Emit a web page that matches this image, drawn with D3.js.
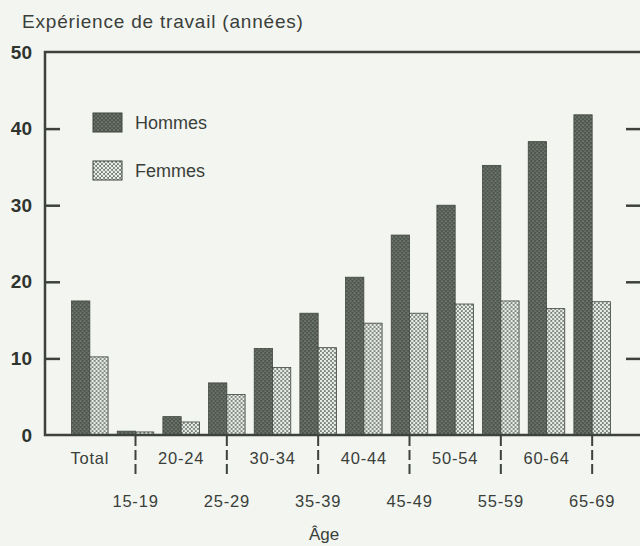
<!DOCTYPE html>
<html>
<head>
<meta charset="utf-8">
<script src="https://cdn.jsdelivr.net/npm/d3@7"></script>
<style>
  html, body { margin: 0; padding: 0; background: #f3f5f1; }
  svg { display: block; font-family: "Liberation Sans", Arial, sans-serif; }
</style>
</head>
<body>
<div id="chart"></div>
<script>
const CATEGORIES = ['Total', '15-19', '20-24', '25-29', '30-34', '35-39', '40-44', '45-49', '50-54', '55-59', '60-64', '65-69'];
const SERIES = ['Hommes', 'Femmes'];
const HOMMES = [17.5, 0.5, 2.4, 6.8, 11.3, 15.9, 20.6, 26.1, 30.0, 35.2, 38.3, 41.8];
const FEMMES = [10.2, 0.4, 1.7, 5.3, 8.8, 11.4, 14.6, 15.9, 17.1, 17.5, 16.5, 17.4];
const Y_TICKS = [0, 10, 20, 30, 40, 50];

(function () {
  const width = 640;
  const height = 546;
  const left = 45;
  const right = 641;
  const top = 52;
  const bottom = 435;
  const ink = '#3d423d';

  const rows = CATEGORIES.map((c, i) => ({ cat: c, Hommes: HOMMES[i], Femmes: FEMMES[i] }));

  const svg = d3.select('#chart')
    .append('svg')
    .attr('width', width)
    .attr('height', height);

  const defs = svg.append('defs');

  // stipple fills, dark for men, light for women
  const men = defs.append('pattern')
    .attr('id', 'pat-hommes')
    .attr('patternUnits', 'userSpaceOnUse')
    .attr('width', 4)
    .attr('height', 4);
  men.append('rect').attr('width', 4).attr('height', 4).attr('fill', '#4f574f');
  men.append('circle').attr('cx', 1).attr('cy', 1).attr('r', 0.6).attr('fill', '#c9d0c9');
  men.append('circle').attr('cx', 3).attr('cy', 3).attr('r', 0.6).attr('fill', '#aeb5ae');

  const women = defs.append('pattern')
    .attr('id', 'pat-femmes')
    .attr('patternUnits', 'userSpaceOnUse')
    .attr('width', 4)
    .attr('height', 4);
  women.append('rect').attr('width', 4).attr('height', 4).attr('fill', '#737973');
  women.append('circle').attr('cx', 1).attr('cy', 1).attr('r', 1.35).attr('fill', '#eaeeea');
  women.append('circle').attr('cx', 3).attr('cy', 3).attr('r', 1.35).attr('fill', '#eaeeea');

  const fills = { Hommes: 'url(#pat-hommes)', Femmes: 'url(#pat-femmes)' };

  const x0 = d3.scaleBand()
    .domain(CATEGORIES)
    .range([67, 615])
    .paddingInner(0.2)
    .paddingOuter(0.1);

  const x1 = d3.scaleBand()
    .domain(SERIES)
    .range([0, x0.bandwidth()]);

  const y = d3.scaleLinear()
    .domain([0, 50])
    .range([bottom, top]);

  // bars
  const groups = svg.append('g')
    .selectAll('g')
    .data(rows)
    .join('g')
    .attr('transform', d => `translate(${x0(d.cat)},0)`);

  groups.selectAll('rect')
    .data(d => SERIES.map(s => ({ key: s, value: d[s] })))
    .join('rect')
    .attr('x', d => x1(d.key))
    .attr('y', d => y(d.value))
    .attr('width', x1.bandwidth())
    .attr('height', d => y(0) - y(d.value))
    .attr('fill', d => fills[d.key])
    .attr('stroke', '#3f453f')
    .attr('stroke-width', 0.8);

  // left axis, ticks pointing inward
  const yAxis = svg.append('g')
    .attr('transform', `translate(${left},0)`)
    .call(d3.axisLeft(y).tickValues(Y_TICKS).tickSizeInner(-15).tickSizeOuter(0).tickPadding(13));
  yAxis.select('.domain').remove();
  yAxis.selectAll('.tick line').attr('stroke', ink).attr('stroke-width', 2.5);
  yAxis.selectAll('.tick text')
    .attr('fill', '#2f342f')
    .attr('font-size', 19)
    .attr('font-weight', 'bold')
    .attr('font-family', '"Liberation Sans", Arial, sans-serif');
  yAxis.selectAll('.tick').filter(d => d === 0 || d === 50).select('line').remove();

  // right axis ticks only
  const yAxisR = svg.append('g')
    .attr('transform', `translate(${right},0)`)
    .call(d3.axisRight(y).tickValues(Y_TICKS.filter(v => v > 0 && v < 50)).tickSizeInner(-15).tickSizeOuter(0).tickFormat(''));
  yAxisR.select('.domain').remove();
  yAxisR.selectAll('.tick line').attr('stroke', ink).attr('stroke-width', 2.5);

  // frame
  svg.append('path')
    .attr('d', `M${right},${top}H${left}V${bottom}H${right}`)
    .attr('fill', 'none')
    .attr('stroke', ink)
    .attr('stroke-width', 2.5);

  // category labels on two rows, dashed ticks for the lower row
  const xAxis = svg.append('g')
    .attr('transform', `translate(0,${bottom})`)
    .call(d3.axisBottom(x0).tickSize(0).tickPadding(0));
  xAxis.select('.domain').remove();
  xAxis.selectAll('.tick text')
    .attr('fill', '#3a3f3a')
    .attr('font-size', 16.5)
    .attr('letter-spacing', 0.8)
    .attr('font-family', '"Liberation Sans", Arial, sans-serif')
    .attr('dy', null)
    .attr('y', (d, i) => i % 2 === 0 ? 29 : 72);
  xAxis.selectAll('.tick')
    .filter((d, i) => i % 2 === 1)
    .append('line')
    .attr('y1', 1)
    .attr('y2', 42)
    .attr('stroke', ink)
    .attr('stroke-width', 2)
    .attr('stroke-dasharray', '10,4');

  // titles
  svg.append('text')
    .attr('x', 22)
    .attr('y', 28)
    .attr('fill', '#3a3f3a')
    .attr('font-size', 19)
    .attr('letter-spacing', 0.8)
    .text('Expérience de travail (années)');

  svg.append('text')
    .attr('x', 324)
    .attr('y', 540)
    .attr('text-anchor', 'middle')
    .attr('fill', '#3a3f3a')
    .attr('font-size', 17)
    .text('Âge');

  // legend
  const legend = svg.append('g')
    .selectAll('g')
    .data(SERIES)
    .join('g')
    .attr('transform', (d, i) => `translate(93,${113 + i * 48})`);

  legend.append('rect')
    .attr('width', 29)
    .attr('height', 19)
    .attr('fill', d => fills[d])
    .attr('stroke', '#3f453f')
    .attr('stroke-width', 1);

  legend.append('text')
    .attr('x', 42)
    .attr('y', 16)
    .attr('fill', '#3a3f3a')
    .attr('font-size', 18)
    .text(d => d);
})();
</script>
</body>
</html>
